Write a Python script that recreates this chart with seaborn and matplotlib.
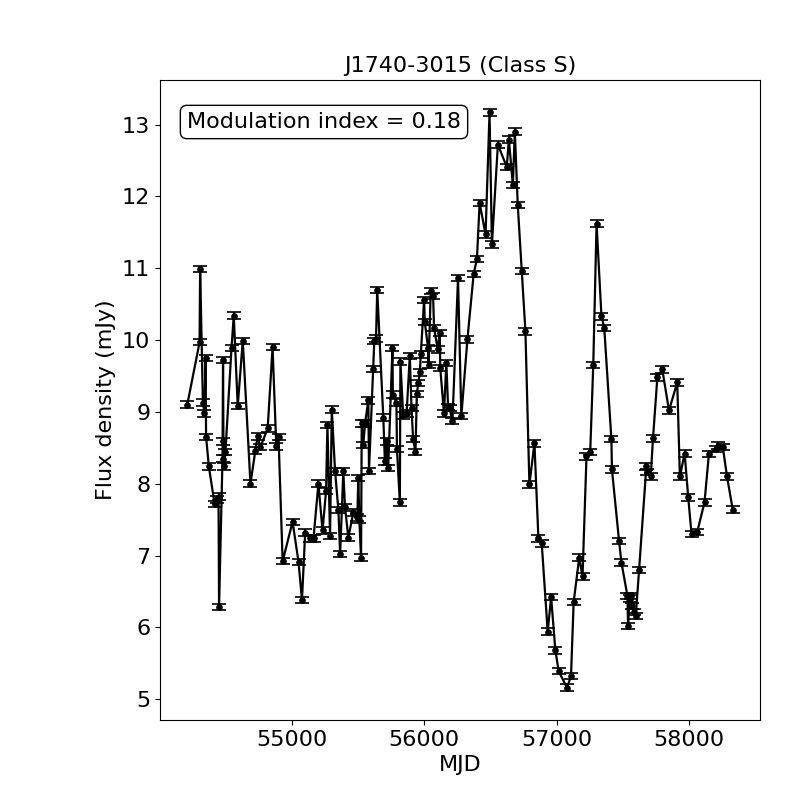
import numpy as np
import pandas as pd
import matplotlib
matplotlib.use('Agg')
import matplotlib.pyplot as plt
import seaborn as sns

# Dados (MJD, densidade de fluxo em mJy)
mjd = [54212, 54305, 54309, 54330, 54342, 54350, 54354, 54375, 54418, 54433,
       54448, 54452, 54478, 54482, 54485, 54489, 54500, 54546, 54563, 54593,
       54631, 54689, 54726, 54743, 54764, 54819, 54856, 54884, 54901, 54932,
       55007, 55052, 55078, 55102, 55140, 55165, 55202, 55233, 55260, 55270,
       55290, 55303, 55328, 55353, 55366, 55390, 55403, 55428, 55466, 55496,
       55503, 55511, 55524, 55529, 55541, 55554, 55579, 55584, 55616, 55624,
       55637, 55646, 55692, 55704, 55717, 55729, 55761, 55764, 55791, 55795,
       55817, 55821, 55842, 55868, 55892, 55905, 55917, 55935, 55945, 55956,
       55968, 55975, 56000, 56005, 56030, 56034, 56050, 56068, 56075, 56103,
       56118, 56122, 56150, 56168, 56181, 56193, 56214, 56256, 56281, 56327,
       56374, 56399, 56419, 56464, 56494, 56512, 56557, 56624, 56640, 56670,
       56685, 56707, 56737, 56765, 56795, 56833, 56863, 56888, 56933, 56959,
       56991, 57016, 57079, 57109, 57129, 57171, 57196, 57226, 57254, 57277,
       57302, 57339, 57360, 57414, 57418, 57472, 57490, 57535, 57540, 57551,
       57560, 57570, 57585, 57598, 57623, 57678, 57685, 57711, 57728, 57761,
       57798, 57849, 57911, 57931, 57967, 57994, 58019, 58062, 58117, 58150,
       58205, 58220, 58255, 58287, 58330]

fluxo = [9.10, 9.97, 10.99, 9.13, 8.98, 9.75, 8.65, 8.24, 7.72, 7.78,
         7.82, 6.28, 8.35, 9.72, 8.59, 8.24, 8.44, 9.89, 10.34, 9.08,
         9.99, 8.00, 8.46, 8.66, 8.51, 8.77, 9.90, 8.52, 8.65, 6.92,
         7.47, 6.91, 6.38, 7.32, 7.24, 7.24, 8.00, 7.35, 7.90, 8.82,
         7.27, 9.03, 8.17, 7.63, 7.02, 8.17, 7.67, 7.25, 7.60, 7.53,
         8.08, 7.50, 6.97, 8.84, 8.54, 8.84, 9.16, 8.18, 9.60, 9.99,
         10.02, 10.70, 8.92, 8.31, 8.59, 8.22, 9.89, 9.24, 9.13, 8.48,
         7.74, 9.70, 8.95, 8.98, 9.78, 9.05, 8.62, 8.44, 9.25, 9.40,
         9.55, 9.80, 10.56, 10.25, 9.89, 9.65, 10.68, 10.61, 10.17, 9.87,
         10.10, 9.61, 8.98, 9.68, 9.07, 9.05, 8.87, 10.86, 8.94, 10.01,
         10.92, 11.13, 11.91, 11.47, 13.17, 11.33, 12.72, 12.41, 12.79, 12.16,
         12.90, 11.88, 10.96, 10.12, 7.99, 8.56, 7.24, 7.17, 5.94, 6.42,
         5.68, 5.39, 5.16, 5.32, 6.35, 6.97, 6.71, 8.38, 8.44, 9.65,
         11.62, 10.33, 10.17, 8.62, 8.20, 7.20, 6.90, 6.44, 6.02, 6.40,
         6.44, 6.30, 6.21, 6.16, 6.80, 8.24, 8.16, 8.10, 8.63, 9.48,
         9.59, 9.02, 9.41, 8.10, 8.42, 7.81, 7.30, 7.33, 7.74, 8.41,
         8.48, 8.53, 8.51, 8.10, 7.64]

erro_fluxo = 0.045
indice_modulacao = 0.18

dados = pd.DataFrame({'MJD': mjd, 'FLUXO': fluxo})

fig, ax = plt.subplots(figsize=(8, 8))
fig.subplots_adjust(left=0.2, right=0.95, bottom=0.1, top=0.9)

# Barras de erro
ax.errorbar(dados['MJD'], dados['FLUXO'], yerr=erro_fluxo, fmt='none',
            ecolor='black', elinewidth=1.5, capsize=5, capthick=1.2, zorder=2)

# Curva de luz
sns.lineplot(data=dados, x='MJD', y='FLUXO', estimator=None, sort=True,
             color='black', linewidth=1.6, marker='o', markersize=4,
             markeredgecolor='black', ax=ax, zorder=3)

ax.text(0.045, 0.95, f'Modulation index = {indice_modulacao:.2f}',
        transform=ax.transAxes, fontsize=16, va='top',
        bbox=dict(boxstyle='round', facecolor='white', edgecolor='black'))

ax.set_title('J1740-3015 (Class S)', fontsize=16)
ax.set_xlabel('MJD', fontsize=16)
ax.set_ylabel('Flux density (mJy)', fontsize=16)
ax.tick_params(labelsize=16)

plt.savefig('out.png', dpi=100)
plt.close()
